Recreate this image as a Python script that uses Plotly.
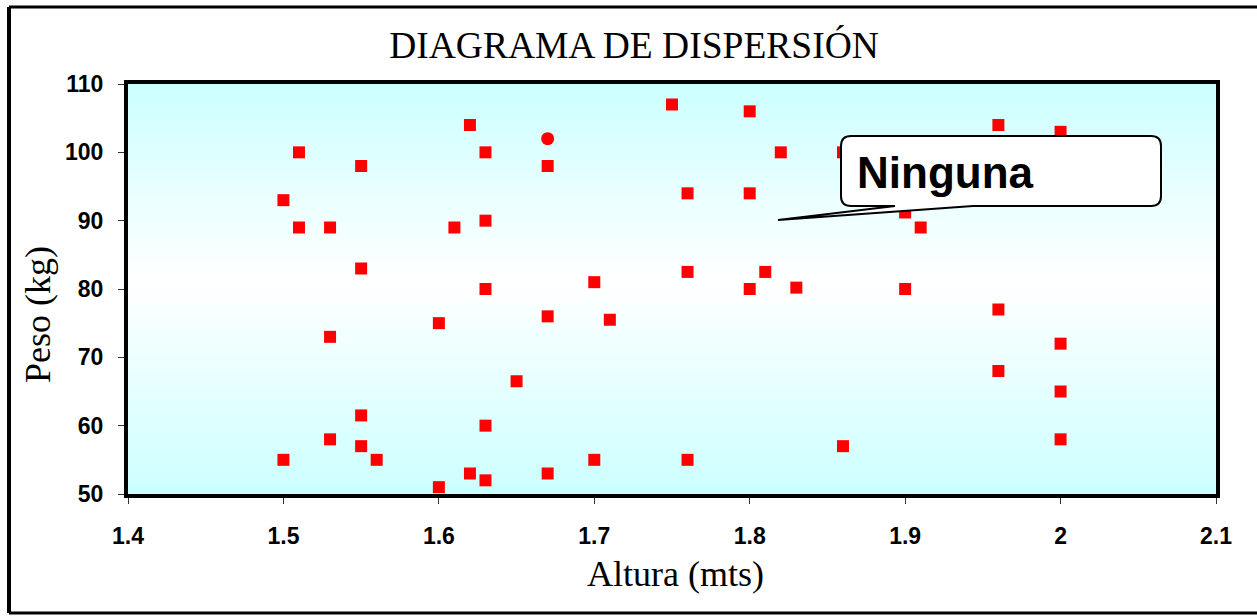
import plotly.graph_objects as go

# ---------------- data ----------------
altura = [1.50, 1.50, 1.51, 1.51, 1.53, 1.53, 1.53, 1.55, 1.55, 1.55,
          1.55, 1.56, 1.60, 1.60, 1.61, 1.62, 1.62, 1.63, 1.63, 1.63,
          1.63, 1.63, 1.65, 1.67, 1.67, 1.67, 1.70, 1.70, 1.71, 1.75,
          1.76, 1.76, 1.76, 1.80, 1.80, 1.80, 1.81, 1.82, 1.83, 1.86,
          1.86, 1.90, 1.90, 1.91, 1.96, 1.96, 1.96, 2.00, 2.00, 2.00,
          2.00]
peso = [55, 93, 100, 89, 89, 73, 58, 98, 83, 61.5,
        57, 55, 75, 51, 89, 104, 53, 100, 90, 80,
        60, 52, 66.5, 98, 76, 53, 81, 55, 75.5, 107,
        94, 82.5, 55, 106, 94, 80, 82.5, 100, 80.2, 57,
        100, 80, 91.2, 89, 104, 77, 68, 103, 72, 65,
        58]
altura_circ = [1.67]
peso_circ = [102]

x_ticks = [1.4, 1.5, 1.6, 1.7, 1.8, 1.9, 2.0, 2.1]
x_ticktext = ["1.4", "1.5", "1.6", "1.7", "1.8", "1.9", "2", "2.1"]
y_ticks = [50, 60, 70, 80, 90, 100, 110]

title_text = "DIAGRAMA DE DISPERSIÓN"
x_title = "Altura (mts)"
y_title = "Peso (kg)"
callout_text = "Ninguna"

# ---------------- layout geometry ----------------
W, H = 1257, 616
ML, MR, MT, MB = 128, 41, 84, 122
PW, PH = W - ML - MR, H - MT - MB


def px(x):
    return (x - ML) / PW


def py(y):
    return (H - MB - y) / PH


TICKFONT = "Liberation Sans Narrow, Arial Narrow, Liberation Sans, Arial, sans-serif"
SERIF = "Liberation Serif, Times New Roman, serif"
SANS = "Liberation Sans, Arial, sans-serif"

fig = go.Figure()

# gradient plot background
fig.add_trace(go.Scatter(
    x=[1.4, 2.1, 2.1, 1.4, 1.4], y=[50, 50, 110, 110, 50],
    mode="lines", line=dict(width=0), fill="toself",
    fillgradient=dict(type="vertical",
                      colorscale=[[0, "#CCFFFF"], [0.52, "#FFFFFF"], [1, "#CCFFFF"]]),
    hoverinfo="skip", showlegend=False))

fig.add_trace(go.Scatter(
    x=altura, y=peso, mode="markers",
    marker=dict(symbol="square", size=12, color="#FF0000", line=dict(width=0)),
    showlegend=False))
fig.add_trace(go.Scatter(
    x=altura_circ, y=peso_circ, mode="markers",
    marker=dict(symbol="circle", size=13, color="#FF0000", line=dict(width=0)),
    showlegend=False))

# callout shape (rounded box with wedge pointer), pixel geometry -> paper
L, R, T, B, r = 841, 1161, 136, 206, 10
w1, w2, tipx, tipy = 895, 973, 778, 220


def P(x, y):
    return f"{px(x):.5f},{py(y):.5f}"


path = (f"M {P(L + r, T)} L {P(R - r, T)} Q {P(R, T)} {P(R, T + r)} "
        f"L {P(R, B - r)} Q {P(R, B)} {P(R - r, B)} L {P(w2, B)} L {P(tipx, tipy)} "
        f"L {P(w1, B)} L {P(L + r, B)} Q {P(L, B)} {P(L, B - r)} "
        f"L {P(L, T + r)} Q {P(L, T)} {P(L + r, T)} Z")

shapes = [
    dict(type="path", xref="paper", yref="paper", path=path,
         fillcolor="white", line=dict(color="black", width=2), layer="above"),
    # outer chart frame
    dict(type="line", xref="paper", yref="paper", x0=px(9), x1=px(9), y0=py(7), y1=py(613),
         line=dict(color="black", width=4)),
    dict(type="line", xref="paper", yref="paper", x0=px(9), x1=px(1270), y0=py(7), y1=py(7),
         line=dict(color="black", width=3)),
    dict(type="line", xref="paper", yref="paper", x0=px(9), x1=px(1270), y0=py(613), y1=py(613),
         line=dict(color="black", width=3)),
]

annotations = [
    dict(text=callout_text, xref="paper", yref="paper", x=px(855), y=py(172),
         xanchor="left", yanchor="middle", showarrow=False,
         font=dict(family=SANS, size=44, color="black", weight="bold")),
    dict(text=x_title, xref="paper", yref="paper", x=px(675), y=py(574),
         xanchor="center", yanchor="middle", showarrow=False,
         font=dict(family=SERIF, size=36, color="black")),
    dict(text=y_title, xref="paper", yref="paper", x=px(38), y=py(315),
         xanchor="center", yanchor="middle", showarrow=False, textangle=-90,
         font=dict(family=SERIF, size=36, color="black")),
]

fig.update_layout(
    width=W, height=H,
    margin=dict(l=ML, r=MR, t=MT, b=MB),
    paper_bgcolor="white", plot_bgcolor="white",
    title=dict(text=title_text, x=634 / W, xref="container", xanchor="center",
               y=1 - 45 / H, yref="container", yanchor="middle",
               font=dict(family=SERIF, size=37.5, color="black")),
    shapes=shapes, annotations=annotations,
    showlegend=False,
)
fig.update_xaxes(range=[1.4, 2.1], tickvals=x_ticks, ticktext=x_ticktext,
                 showgrid=False, zeroline=False,
                 showline=True, linecolor="black", linewidth=4, mirror=True,
                 ticks="outside", ticklen=6, tickwidth=1, tickcolor="#333",
                 ticklabelstandoff=12,
                 tickfont=dict(family=TICKFONT, size=23, color="black", weight="bold"))
fig.update_yaxes(range=[50, 110], tickvals=y_ticks,
                 showgrid=False, zeroline=False,
                 showline=True, linecolor="black", linewidth=4, mirror=True,
                 ticks="outside", ticklen=6, tickwidth=1, tickcolor="#333",
                 ticklabelstandoff=10,
                 tickfont=dict(family=TICKFONT, size=23, color="black", weight="bold"))

fig.write_html("out.html")
